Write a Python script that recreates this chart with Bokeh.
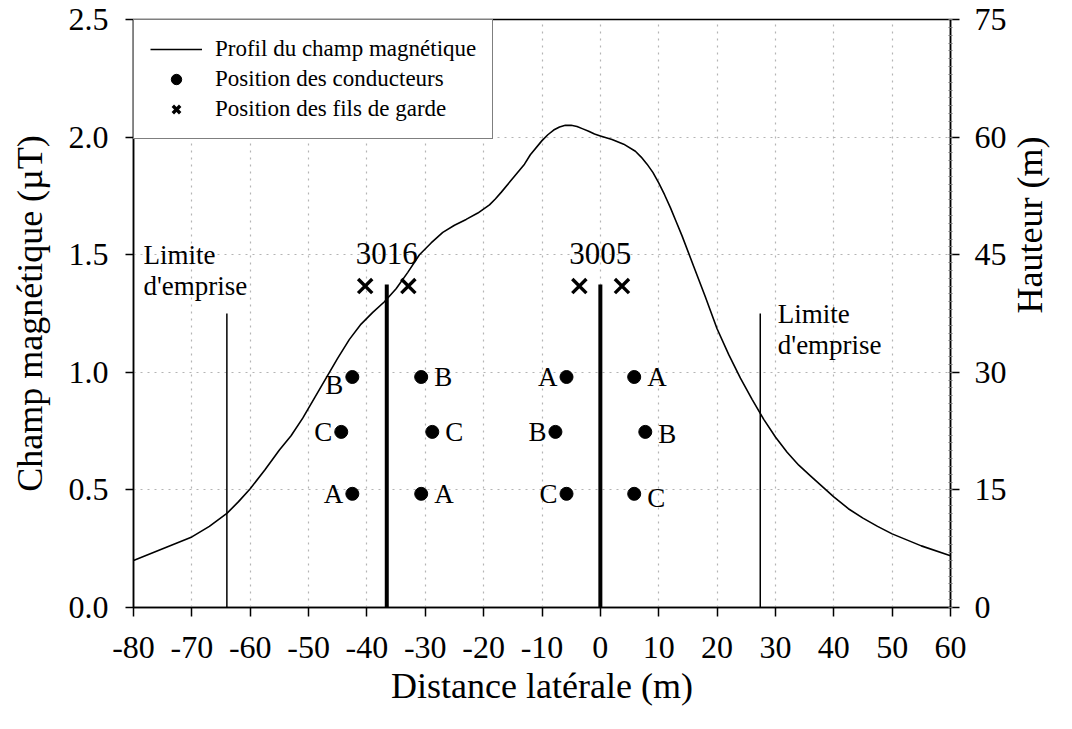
import math
from bokeh.plotting import figure
from bokeh.models import (Range1d, LinearAxis, FixedTicker, NumeralTickFormatter,
                          Legend, LegendItem, ColumnDataSource)
from bokeh.core.properties import value
from bokeh.embed import file_html
from bokeh.resources import INLINE

# ---------------- data ----------------
curve_x = [-80, -75, -70, -67, -64, -62, -60, -57.5, -55, -53, -51, -49, -47, -45, -43,
           -41, -39, -37, -35, -33, -31, -29, -27, -25, -23, -21, -19, -18, -17, -15, -13,
           -12, -10, -9, -8, -7, -6, -5, -4, -3, -2, -1, 0, 2, 4, 6, 7, 8, 9, 10, 11, 12,
           13, 14, 16, 18, 20, 22, 24, 26, 28, 30, 32, 34, 36, 38, 40, 42.5, 45, 47.5, 50,
           55, 60]
curve_b = [0.20, 0.25, 0.30, 0.345, 0.40, 0.45, 0.505, 0.585, 0.67, 0.73, 0.805, 0.89, 0.975,
           1.06, 1.14, 1.205, 1.255, 1.30, 1.355, 1.425, 1.50, 1.55, 1.595, 1.625, 1.65,
           1.677, 1.712, 1.737, 1.765, 1.825, 1.885, 1.925, 1.985, 2.01, 2.03, 2.043, 2.05,
           2.05, 2.045, 2.035, 2.025, 2.013, 2.005, 1.99, 1.97, 1.94, 1.915, 1.885, 1.85,
           1.805, 1.755, 1.70, 1.64, 1.58, 1.45, 1.32, 1.185, 1.075, 0.975, 0.885, 0.80,
           0.725, 0.66, 0.605, 0.56, 0.515, 0.47, 0.42, 0.38, 0.345, 0.313, 0.262, 0.22]

tower_names = ["3016", "3005"]
tower_x = [-36.6, 0.0]
tower_h = [41.2, 41.2]
tower_label_h = [45.1, 45.1]

cond_x = [-42.5, -44.4, -42.5, -30.7, -28.8, -30.7, -5.8, -7.7, -5.8, 5.8, 7.7, 5.8]
cond_h = [29.4, 22.4, 14.5, 29.4, 22.4, 14.5, 29.4, 22.4, 14.5, 29.4, 22.4, 14.5]
cond_phase = ["B", "C", "A", "B", "C", "A", "A", "B", "C", "A", "B", "C"]
cond_side = ["L", "L", "L", "R", "R", "R", "L", "L", "L", "R", "R", "R"]

gw_x = [-40.3, -32.9, -3.6, 3.7]
gw_h = [41.0, 41.0, 41.0, 41.0]

limit_x = [-64.0, 27.4]
limit_top = [1.25, 1.25]
limit_text_x = [-78.3, 30.4]
limit_line1_y = [1.497, 1.246]
limit_line2_y = [1.365, 1.114]

x_ticks = list(range(-80, 61, 10))
y_ticks = [0.0, 0.5, 1.0, 1.5, 2.0, 2.5]
h_ticks = [0, 15, 30, 45, 60, 75]

FONT = "Liberation Serif"

# ---------------- figure ----------------
W, H = 1072, 729
p = figure(width=W, height=H, x_range=Range1d(-80, 60), y_range=Range1d(0, 2.5),
           output_backend="svg", toolbar_location=None,
           min_border_left=133, min_border_right=W - 951, min_border_top=19,
           min_border_bottom=H - 607)
p.extra_y_ranges = {"h": Range1d(0, 75)}
p.outline_line_color = "black"
p.outline_line_width = 1.5
p.background_fill_color = "white"
p.border_fill_color = "white"

# grids
p.xgrid.ticker = FixedTicker(ticks=x_ticks)
p.ygrid.ticker = FixedTicker(ticks=y_ticks)
for g in (p.xgrid, p.ygrid):
    g.grid_line_color = "#b4b4b4"
    g.grid_line_dash = "2 5"
    g.grid_line_width = 1.2

# x axis
xa = p.xaxis[0]
xa.ticker = FixedTicker(ticks=x_ticks)
xa.major_label_overrides = {t: str(t) for t in x_ticks}
xa.axis_label = "Distance latérale (m)"
xa.major_label_standoff = 20
xa.axis_label_standoff = 5
xa.major_label_text_font_size = "32px"
xa.axis_label_text_font_size = "36px"

# left axis
ya = p.yaxis[0]
ya.ticker = FixedTicker(ticks=y_ticks)
ya.formatter = NumeralTickFormatter(format="0.0")
ya.axis_label = "Champ magnétique (µT)"
ya.major_label_standoff = 17
ya.axis_label_standoff = 16
ya.major_label_text_font_size = "32px"
ya.axis_label_text_font_size = "36px"

# right axis
ra = LinearAxis(y_range_name="h", ticker=FixedTicker(ticks=h_ticks, minor_ticks=list(range(0, 76))))
ra.axis_label = "Hauteur (m)"
ra.major_label_standoff = 15
ra.axis_label_standoff = 20
ra.major_label_text_font_size = "32px"
ra.axis_label_text_font_size = "36px"
ra.minor_tick_in = 2
ra.minor_tick_out = 2
ra.minor_tick_line_color = "#777777"
try:
    ra.axis_label_orientation = math.pi / 2
    ra.axis_label_text_baseline = "bottom"
except Exception:
    pass
p.add_layout(ra, "right")

for ax in (xa, ya, ra):
    ax.axis_line_color = "black"
    ax.axis_line_width = 1.5
    ax.major_tick_line_color = "black"
    ax.major_tick_line_width = 1.5
    ax.major_tick_in = 0
    ax.major_tick_out = 9
    ax.major_label_text_font = FONT
    ax.major_label_text_color = "black"
    ax.axis_label_text_font = FONT
    ax.axis_label_text_font_style = "normal"
    ax.axis_label_text_color = "black"
xa.minor_tick_line_color = None
ya.minor_tick_line_color = None
ya.major_tick_out = 8

# ---------------- glyphs ----------------
curve_r = p.line(curve_x, curve_b, line_width=1.6, color="black", line_join="round")

p.segment(x0=limit_x, y0=[0, 0], x1=limit_x, y1=limit_top, line_width=1.5, color="black")
p.segment(x0=tower_x, y0=[0, 0], x1=tower_x, y1=tower_h, y_range_name="h",
          line_width=4, color="black")

cond_r = p.scatter(cond_x, cond_h, y_range_name="h", marker="circle", size=13, color="black")
gw_r = p.scatter(gw_x, gw_h, y_range_name="h", marker="x", size=20, line_width=3.4, color="black")

# phase labels
dy = [8, 0, 0, 0, 0, 0, 0, 0, 0, 0, 2, 4]
left = [i for i, s in enumerate(cond_side) if s == "L"]
right = [i for i, s in enumerate(cond_side) if s == "R"]
for idx, align, xo in ((left, "right", -9), (right, "left", 13)):
    src = ColumnDataSource(dict(x=[cond_x[i] for i in idx], y=[cond_h[i] for i in idx],
                                t=[cond_phase[i] for i in idx], dy=[dy[i] for i in idx]))
    p.text(x="x", y="y", text="t", source=src, y_range_name="h", text_align=align,
           text_baseline="middle", x_offset=xo, y_offset="dy",
           text_font=value(FONT), text_font_size="27px", text_color="black")

# tower names
p.text(x=tower_x, y=tower_label_h, text=tower_names, y_range_name="h", text_align="center",
       text_baseline="middle", text_font=value(FONT), text_font_size="31px", text_color="black")

# limit labels
p.text(x=limit_text_x, y=limit_line1_y, text=["Limite", "Limite"], text_align="left",
       text_baseline="middle", text_font=value(FONT), text_font_size="27px", text_color="black")
p.text(x=limit_text_x, y=limit_line2_y, text=["d'emprise", "d'emprise"], text_align="left",
       text_baseline="middle", text_font=value(FONT), text_font_size="27px", text_color="black")

# ---------------- legend ----------------
legend = Legend(items=[
    LegendItem(label="Profil du champ magnétique", renderers=[curve_r]),
    LegendItem(label="Position des conducteurs", renderers=[cond_r]),
    LegendItem(label="Position des fils de garde", renderers=[gw_r]),
], location="top_left")
legend.margin = 0
legend.padding = 16
legend.spacing = 4
legend.glyph_width = 52
legend.glyph_height = 26
legend.label_standoff = 13
legend.label_text_font = FONT
legend.label_text_font_size = "23px"
legend.label_text_color = "black"
legend.border_line_color = "black"
legend.border_line_width = 1.2
legend.background_fill_color = "white"
legend.background_fill_alpha = 1.0
p.add_layout(legend)

open("out.html", "w").write(file_html(p, INLINE))
